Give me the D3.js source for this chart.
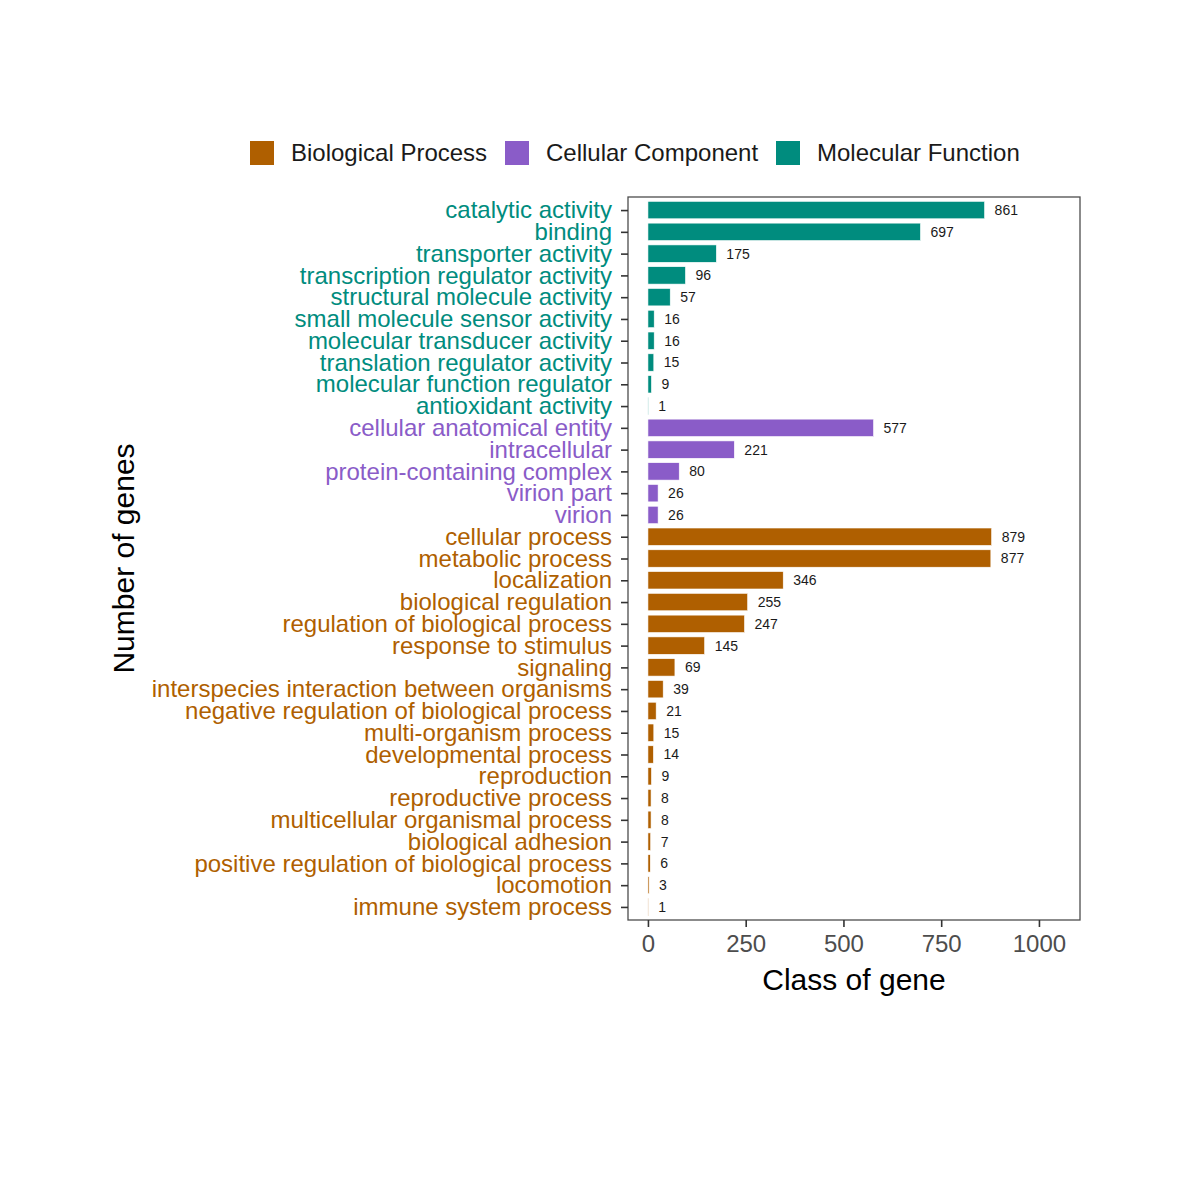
<!DOCTYPE html>
<html>
<head>
<meta charset="utf-8">
<script src="https://cdn.jsdelivr.net/npm/d3@7"></script>
<style>
  body { margin: 0; background: #fff; }
  text { font-family: "Liberation Sans", Arial, sans-serif; }
</style>
</head>
<body>
<script>
// categories, top to bottom
const terms = [
  "catalytic activity", "binding", "transporter activity", "transcription regulator activity",
  "structural molecule activity", "small molecule sensor activity", "molecular transducer activity",
  "translation regulator activity", "molecular function regulator", "antioxidant activity",
  "cellular anatomical entity", "intracellular", "protein-containing complex", "virion part", "virion",
  "cellular process", "metabolic process", "localization", "biological regulation",
  "regulation of biological process", "response to stimulus", "signaling",
  "interspecies interaction between organisms", "negative regulation of biological process",
  "multi-organism process", "developmental process", "reproduction", "reproductive process",
  "multicellular organismal process", "biological adhesion",
  "positive regulation of biological process", "locomotion", "immune system process"
];
const counts = [861, 697, 175, 96, 57, 16, 16, 15, 9, 1,
  577, 221, 80, 26, 26,
  879, 877, 346, 255, 247, 145, 69, 39, 21, 15, 14, 9, 8, 8, 7, 6, 3, 1];
const groups = ["MF","MF","MF","MF","MF","MF","MF","MF","MF","MF",
  "CC","CC","CC","CC","CC",
  "BP","BP","BP","BP","BP","BP","BP","BP","BP","BP","BP","BP","BP","BP","BP","BP","BP","BP"];
const groupKeys = ["BP", "CC", "MF"];
const groupNames = ["Biological Process", "Cellular Component", "Molecular Function"];
const groupColors = ["#AF5F00", "#8A5CC8", "#008C7E"];
const xTicks = [0, 250, 500, 750, 1000];

const data = terms.map((t, i) => ({term: t, n: counts[i], g: groups[i]}));

// panel box
const panel = {left: 628, top: 197, right: 1080, bottom: 920};

const svg = d3.select("body").append("svg")
    .attr("width", 1200)
    .attr("height", 1200);

const color = d3.scaleOrdinal().domain(groupKeys).range(groupColors);

const x = d3.scaleLinear()
    .domain([-51, 1105])
    .range([panel.left, panel.right]);

const y = d3.scalePoint()
    .domain(terms)
    .range([panel.top, panel.bottom])
    .padding(0.6);

const barH = y.step() * 0.8;

// bars
svg.append("g").selectAll("rect")
    .data(data)
    .enter().append("rect")
    .attr("x", x(0))
    .attr("y", d => y(d.term) - barH / 2)
    .attr("width", d => x(d.n) - x(0))
    .attr("height", barH)
    .attr("fill", d => color(d.g))
    .attr("stroke", "#fff")
    .attr("stroke-width", 0.6);

// value labels
svg.append("g").selectAll("text")
    .data(data)
    .enter().append("text")
    .attr("x", d => x(d.n) + 10)
    .attr("y", d => y(d.term))
    .attr("dy", "0.35em")
    .attr("font-size", 14)
    .attr("fill", "#1a1a1a")
    .text(d => d.n);

// panel border
svg.append("rect")
    .attr("x", panel.left)
    .attr("y", panel.top)
    .attr("width", panel.right - panel.left)
    .attr("height", panel.bottom - panel.top)
    .attr("fill", "none")
    .attr("stroke", "#4d4d4d")
    .attr("stroke-width", 1.3);

// y axis
const yAxis = svg.append("g")
    .attr("transform", `translate(${panel.left},0)`)
    .call(d3.axisLeft(y).tickSize(7).tickPadding(9));
yAxis.select(".domain").remove();
yAxis.selectAll(".tick line").attr("stroke", "#333").attr("stroke-width", 1.6);
yAxis.selectAll(".tick text")
    .attr("font-size", 24)
    .attr("font-family", "Liberation Sans, Arial, sans-serif")
    .attr("fill", (d, i) => color(groups[i]));

// x axis
const xAxis = svg.append("g")
    .attr("transform", `translate(0,${panel.bottom})`)
    .call(d3.axisBottom(x).tickValues(xTicks).tickFormat(d3.format("d")).tickSize(7).tickPadding(8));
xAxis.select(".domain").remove();
xAxis.selectAll(".tick line").attr("stroke", "#333").attr("stroke-width", 1.6);
xAxis.selectAll(".tick text")
    .attr("font-size", 24)
    .attr("font-family", "Liberation Sans, Arial, sans-serif")
    .attr("fill", "#4d4d4d");

// axis titles
svg.append("text")
    .attr("x", (panel.left + panel.right) / 2)
    .attr("y", 990)
    .attr("text-anchor", "middle")
    .attr("font-size", 30)
    .attr("fill", "#000")
    .text("Class of gene");

svg.append("text")
    .attr("transform", `translate(134,${(panel.top + panel.bottom) / 2}) rotate(-90)`)
    .attr("text-anchor", "middle")
    .attr("font-size", 30)
    .attr("fill", "#000")
    .text("Number of genes");

// legend
const legendX = [250, 505, 776];
const legend = svg.append("g").selectAll("g")
    .data(groupKeys)
    .enter().append("g")
    .attr("transform", (d, i) => `translate(${legendX[i]},141)`);
legend.append("rect")
    .attr("width", 24)
    .attr("height", 24)
    .attr("fill", d => color(d));
legend.append("text")
    .attr("x", 41)
    .attr("y", 12)
    .attr("dy", "0.35em")
    .attr("font-size", 24)
    .attr("fill", "#1a1a1a")
    .text((d, i) => groupNames[i]);
</script>
</body>
</html>
